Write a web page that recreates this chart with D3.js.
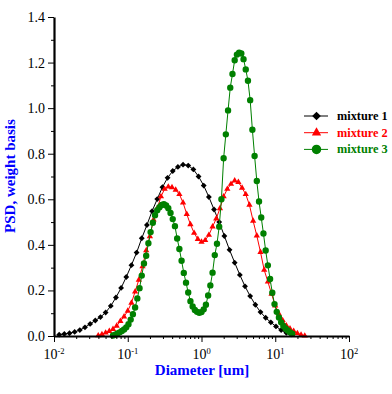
<!DOCTYPE html>
<html>
<head>
<meta charset="utf-8">
<script src="https://cdn.jsdelivr.net/npm/d3@7"></script>
<style>
body { margin: 0; background: #fff; }
text { font-family: "Liberation Serif", "Times New Roman", serif; }
</style>
</head>
<body>
<div id="chart"></div>
<script>
// series names / colours
const seriesNames = ["mixture 1", "mixture 2", "mixture 3"];
const seriesColors = ["#000000", "#ff0000", "#008000"];

// diameters are read as log10(um) off the log axis
const blackLogD = [-1.93, -1.86, -1.79, -1.72, -1.65, -1.58, -1.51, -1.44, -1.37, -1.30, -1.23, -1.16, -1.09, -1.02, -0.95, -0.88, -0.81, -0.74, -0.67, -0.60, -0.53, -0.46, -0.39, -0.32, -0.25, -0.18, -0.11, -0.04, 0.03, 0.10, 0.17, 0.24, 0.31, 0.38, 0.45, 0.52, 0.59, 0.66, 0.73, 0.80, 0.87, 0.94, 1.01, 1.08, 1.15, 1.22];
const blackPSD = [0.006, 0.009, 0.012, 0.018, 0.026, 0.038, 0.053, 0.068, 0.083, 0.103, 0.132, 0.169, 0.211, 0.259, 0.311, 0.366, 0.429, 0.487, 0.548, 0.601, 0.653, 0.694, 0.724, 0.742, 0.752, 0.748, 0.731, 0.700, 0.660, 0.610, 0.555, 0.500, 0.439, 0.378, 0.322, 0.268, 0.218, 0.175, 0.137, 0.105, 0.080, 0.060, 0.042, 0.026, 0.014, 0.007];

const redLogD = [-1.40, -1.35, -1.30, -1.25, -1.20, -1.15, -1.10, -1.05, -1.00, -0.95, -0.90, -0.85, -0.80, -0.75, -0.70, -0.65, -0.60, -0.55, -0.50, -0.45, -0.40, -0.35, -0.30, -0.25, -0.20, -0.15, -0.10, -0.05, 0.00, 0.05, 0.10, 0.15, 0.20, 0.25, 0.30, 0.35, 0.40, 0.45, 0.50, 0.55, 0.60, 0.65, 0.70, 0.75, 0.80, 0.85, 0.90, 0.95, 1.00, 1.05, 1.10, 1.15, 1.20, 1.25, 1.30, 1.35, 1.40];
const redPSD = [0.002, 0.007, 0.014, 0.021, 0.030, 0.044, 0.065, 0.085, 0.110, 0.145, 0.195, 0.246, 0.305, 0.375, 0.437, 0.510, 0.560, 0.612, 0.645, 0.655, 0.652, 0.641, 0.622, 0.585, 0.535, 0.490, 0.452, 0.425, 0.413, 0.420, 0.443, 0.480, 0.515, 0.560, 0.612, 0.645, 0.667, 0.682, 0.675, 0.650, 0.622, 0.575, 0.505, 0.440, 0.368, 0.290, 0.238, 0.185, 0.133, 0.097, 0.069, 0.046, 0.032, 0.021, 0.012, 0.005, 0.001];

const greenLogD = [-1.20, -1.17, -1.14, -1.11, -1.08, -1.05, -1.02, -0.99, -0.96, -0.93, -0.90, -0.87, -0.84, -0.81, -0.78, -0.75, -0.72, -0.69, -0.66, -0.63, -0.60, -0.57, -0.54, -0.51, -0.48, -0.45, -0.42, -0.39, -0.36, -0.33, -0.30, -0.27, -0.24, -0.21, -0.18, -0.15, -0.12, -0.09, -0.06, -0.03, 0.00, 0.03, 0.06, 0.09, 0.12, 0.15, 0.18, 0.21, 0.24, 0.27, 0.30, 0.33, 0.36, 0.39, 0.42, 0.45, 0.48, 0.51, 0.54, 0.57, 0.60, 0.63, 0.66, 0.69, 0.72, 0.75, 0.78, 0.81, 0.84, 0.87, 0.90, 0.93, 0.96, 0.99, 1.02, 1.05, 1.08, 1.11, 1.14, 1.17, 1.20, 1.23];
const greenPSD = [0.002, 0.006, 0.011, 0.016, 0.022, 0.029, 0.038, 0.052, 0.072, 0.096, 0.125, 0.165, 0.210, 0.265, 0.318, 0.352, 0.407, 0.456, 0.497, 0.530, 0.552, 0.565, 0.575, 0.578, 0.573, 0.561, 0.540, 0.513, 0.482, 0.428, 0.382, 0.330, 0.277, 0.234, 0.191, 0.153, 0.130, 0.114, 0.106, 0.102, 0.105, 0.117, 0.137, 0.178, 0.222, 0.278, 0.355, 0.405, 0.480, 0.600, 0.780, 0.885, 0.990, 1.090, 1.150, 1.210, 1.235, 1.243, 1.240, 1.215, 1.170, 1.120, 1.035, 0.905, 0.790, 0.680, 0.590, 0.520, 0.450, 0.375, 0.310, 0.250, 0.190, 0.140, 0.106, 0.081, 0.060, 0.044, 0.033, 0.024, 0.016, 0.010];

// axis ticks
const yTicks = [0.0, 0.2, 0.4, 0.6, 0.8, 1.0, 1.2, 1.4];
const yMinorTicks = [0.1, 0.3, 0.5, 0.7, 0.9, 1.1, 1.3];
const xExponents = [-2, -1, 0, 1, 2];
const xMinorMult = [2, 3, 4, 5, 6, 7, 8, 9];

const svgWidth = 392, svgHeight = 394;
const margin = { top: 17, right: 43, bottom: 58, left: 54 };
const width = svgWidth - margin.left - margin.right;
const height = svgHeight - margin.top - margin.bottom;

const svg = d3.select("#chart").append("svg")
    .attr("width", svgWidth)
    .attr("height", svgHeight)
    .style("background", "#fff");

const g = svg.append("g").attr("transform", `translate(${margin.left},${margin.top})`);

const x = d3.scaleLog().domain([0.01, 100]).range([0, width]);
const y = d3.scaleLinear().domain([0, 1.4]).range([height, 0]);

// build point lists
const series = [
    { name: seriesNames[0], color: seriesColors[0], shape: "diamond", pts: blackLogD.map((l, i) => ({ d: Math.pow(10, l), v: blackPSD[i] })) },
    { name: seriesNames[1], color: seriesColors[1], shape: "triangle", pts: redLogD.map((l, i) => ({ d: Math.pow(10, l), v: redPSD[i] })) },
    { name: seriesNames[2], color: seriesColors[2], shape: "circle", pts: greenLogD.map((l, i) => ({ d: Math.pow(10, l), v: greenPSD[i] })) }
];

function symbolPath(shape, scale) {
    if (shape === "diamond") return d3.symbol().type(d3.symbolSquare).size(17 * scale)();
    if (shape === "triangle") return d3.symbol().type(d3.symbolTriangle).size(17 * scale)();
    return d3.symbol().type(d3.symbolCircle).size(32 * scale)();
}

const line = d3.line().x(d => x(d.d)).y(d => y(d.v));

series.forEach(s => {
    g.append("path")
        .datum(s.pts)
        .attr("fill", "none")
        .attr("stroke", s.color)
        .attr("stroke-width", 1)
        .attr("d", line);

    g.selectAll(null)
        .data(s.pts)
        .join("path")
        .attr("d", symbolPath(s.shape, 1))
        .attr("transform", d => `translate(${x(d.d)},${y(d.v)})` + (s.shape === "diamond" ? " rotate(45)" : ""))
        .attr("fill", s.color);
});

// y axis
const yAxis = g.append("g")
    .call(d3.axisLeft(y).tickValues(yTicks).tickSize(6).tickSizeOuter(0).tickFormat(d3.format(".1f")));
yAxis.select(".domain").attr("stroke-width", 2.2);
yAxis.selectAll("text").attr("font-size", 14).attr("x", -9).attr("font-family", "Liberation Serif");
g.append("g")
    .call(d3.axisLeft(y).tickValues(yMinorTicks).tickSize(3).tickFormat(""))
    .select(".domain").remove();

// x axis
const xAxis = g.append("g")
    .attr("transform", `translate(0,${height})`)
    .call(d3.axisBottom(x).tickValues(xExponents.map(e => Math.pow(10, e))).tickSize(6).tickSizeOuter(0).tickFormat(""));
xAxis.select(".domain").attr("stroke-width", 2.2);

const minorVals = [];
xExponents.slice(0, -1).forEach(e => xMinorMult.forEach(m => minorVals.push(m * Math.pow(10, e))));
g.append("g")
    .attr("transform", `translate(0,${height})`)
    .call(d3.axisBottom(x).tickValues(minorVals).tickSize(3).tickFormat(""))
    .select(".domain").remove();

// x tick labels 10^n
xExponents.forEach(e => {
    const t = g.append("text")
        .attr("x", x(Math.pow(10, e)))
        .attr("y", height + 23)
        .attr("text-anchor", "middle")
        .attr("font-size", 14)
        .attr("fill", "#000");
    t.append("tspan").text("10");
    t.append("tspan").attr("font-size", 8.5).attr("dy", -5.5).text(e);
});

// axis titles
svg.append("text")
    .attr("x", 202)
    .attr("y", 375)
    .attr("text-anchor", "middle")
    .attr("font-size", 15)
    .attr("font-weight", "bold")
    .attr("fill", "#0000ff")
    .text("Diameter [um]");

svg.append("text")
    .attr("transform", "translate(15,176) rotate(-90)")
    .attr("text-anchor", "middle")
    .attr("font-size", 15)
    .attr("font-weight", "bold")
    .attr("fill", "#0000ff")
    .text("PSD, weight basis");

// legend
const legend = svg.append("g").attr("transform", "translate(304,116)");
series.forEach((s, i) => {
    const row = legend.append("g").attr("transform", `translate(0,${i * 16.7})`);
    row.append("line")
        .attr("x1", 0).attr("x2", 24)
        .attr("stroke", s.color).attr("stroke-width", 1);
    row.append("path")
        .attr("d", symbolPath(s.shape, 2.2))
        .attr("transform", "translate(12.5,0)" + (s.shape === "diamond" ? " rotate(45)" : ""))
        .attr("fill", s.color);
    row.append("text")
        .attr("x", 33)
        .attr("y", 4)
        .attr("font-size", 12.3)
        .attr("font-weight", "bold")
        .attr("fill", s.color)
        .text(s.name);
});
</script>
</body>
</html>
